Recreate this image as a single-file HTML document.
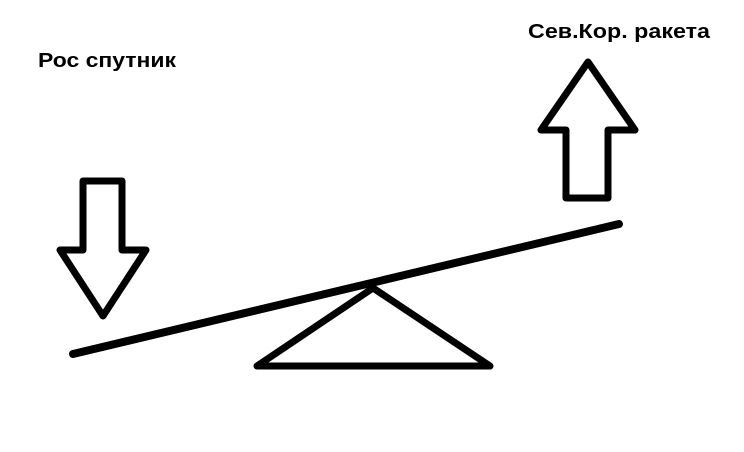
<!DOCTYPE html>
<html><head><meta charset="utf-8"><style>html,body{margin:0;padding:0;background:#fff}svg{display:block}</style></head>
<body>
<svg width="744" height="452" viewBox="0 0 744 452" xmlns="http://www.w3.org/2000/svg">
<rect width="744" height="452" fill="#fff"/>
<text x="38" y="67" font-family="Liberation Sans, sans-serif" font-weight="bold" font-size="20" textLength="138" lengthAdjust="spacingAndGlyphs" fill="#000">Рос спутник</text>
<text x="528" y="38" font-family="Liberation Sans, sans-serif" font-weight="bold" font-size="20" textLength="182" lengthAdjust="spacingAndGlyphs" fill="#000">Сев.Кор. ракета</text>
<g fill="none" stroke="#000" stroke-width="7" stroke-linejoin="round" stroke-linecap="round">
<polygon points="83,181 122,181 122,250 146,250 103,316 60,250 83,250"/>
<polygon points="588,62 635,130 608,130 608,198 566,198 566,130 541,130"/>
<polygon points="373,288 490,366 257,366"/>
<line x1="73" y1="354" x2="619" y2="224" stroke-width="8"/>
</g>
</svg>
</body></html>
